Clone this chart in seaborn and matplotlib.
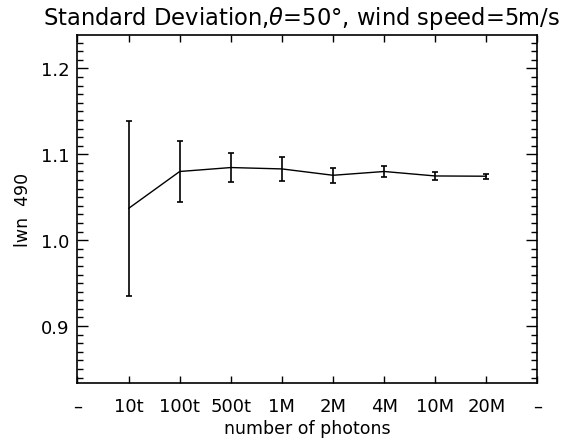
import matplotlib
matplotlib.use("Agg")
import matplotlib.pyplot as plt
import seaborn as sns
import pandas as pd
from matplotlib.ticker import MultipleLocator, FormatStrFormatter

categories = ["10t", "100t", "500t", "1M", "2M", "4M", "10M", "20M"]
means = [1.037, 1.080, 1.0846, 1.083, 1.0756, 1.080, 1.0748, 1.0745]
errors = [0.102, 0.036, 0.0166, 0.0135, 0.0087, 0.006, 0.0047, 0.003]
tick_labels = ["\u2013"] + categories + ["\u2013"]

sns.set_theme(style="ticks", rc={
    "xtick.direction": "in", "ytick.direction": "in",
    "ytick.minor.size": 4, "ytick.minor.width": 1.0,
    "ytick.major.size": 8, "ytick.major.width": 1.0,
    "xtick.major.size": 5, "xtick.major.width": 1.0,
    "text.color": "black", "axes.labelcolor": "black",
    "xtick.color": "black", "ytick.color": "black",
    "axes.edgecolor": "black",
})
plt.rcParams["font.family"] = ["DejaVu Sans"]

df = pd.DataFrame({"pos": list(range(1, len(categories) + 1)), "mean": means, "err": errors})

fig = plt.figure(figsize=(5.68, 4.39), dpi=100)
ax = fig.add_axes([0.1364, 0.126, 0.8099, 0.792])

sns.lineplot(data=df, x="pos", y="mean", ax=ax, color="black", linewidth=1.0)
ax.errorbar(df["pos"], df["mean"], yerr=df["err"], fmt="none", ecolor="black",
            elinewidth=1.2, capsize=2.5, capthick=1.2)

ax.set_xlim(0, 9)
ax.set_ylim(0.834, 1.239)
ax.set_xticks(range(0, 10))
ax.set_xticklabels(tick_labels)
ax.yaxis.set_major_locator(MultipleLocator(0.1))
ax.yaxis.set_minor_locator(MultipleLocator(0.01))
ax.yaxis.set_major_formatter(FormatStrFormatter("%.1f"))
ax.xaxis.set_minor_locator(matplotlib.ticker.NullLocator())

ax.tick_params(axis="both", which="both", direction="in", top=True, right=True,
               labelsize=13, colors="black")
ax.tick_params(axis="y", which="minor", length=4, width=1, left=True, right=True)
ax.tick_params(axis="y", which="major", pad=6)
ax.tick_params(axis="x", which="major", pad=10)

for s in ax.spines.values():
    s.set_visible(True)
    s.set_color("black")
    s.set_linewidth(1.2)

ax.set_xlabel("number of photons", fontsize=12.5, labelpad=3)
ax.set_ylabel("lwn  490", fontsize=12.5, labelpad=6)
ax.set_title(r"Standard Deviation,$\theta$=50$\degree$, wind speed=5m/s",
             fontsize=16.3, pad=8, x=0.486, color="black")

fig.savefig("out.png", dpi=100)
